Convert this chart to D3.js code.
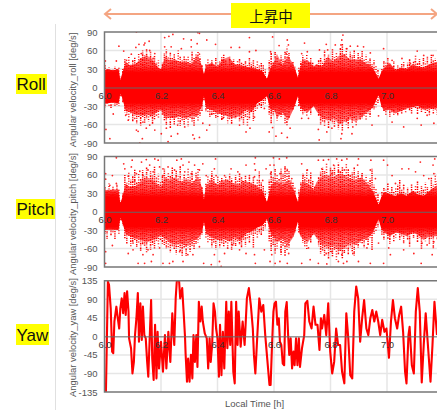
<!DOCTYPE html>
<html>
<head>
<meta charset="utf-8">
<script src="https://cdn.jsdelivr.net/npm/d3@7"></script>
<style>
  html, body { margin: 0; padding: 0; background: #fff; overflow: hidden; }
  text { font-family: "Liberation Sans", Arial, sans-serif; }
</style>
</head>
<body>
<script>
const timeTicks = [6.0, 6.2, 6.4, 6.6, 6.8, 7.0];
const rollTicks = [-90, -60, -30, 0, 30, 60, 90];
const pitchTicks = [-90, -60, -30, 0, 30, 60, 90];
const yawTicks = [-135, -90, -45, 0, 45, 90, 135];

const bandTime = [
  6.0, 6.01, 6.03, 6.05, 6.056, 6.062, 6.075, 6.09, 6.11, 6.13, 6.15, 6.17, 6.19, 6.2, 6.215,
  6.23, 6.25, 6.27, 6.29, 6.31, 6.33, 6.345, 6.352, 6.36, 6.38, 6.4, 6.42, 6.44, 6.46, 6.48,
  6.5, 6.52, 6.54, 6.56, 6.575, 6.59, 6.6, 6.61, 6.63, 6.65, 6.67, 6.685, 6.69, 6.7, 6.72,
  6.74, 6.75, 6.77, 6.79, 6.81, 6.83, 6.85, 6.87, 6.89, 6.91, 6.93, 6.95, 6.97, 6.98, 6.99,
  7.01, 7.03, 7.05, 7.07, 7.09, 7.11, 7.13, 7.15, 7.18,
];
const rollUpper = [
  28, 30, 28, 30, 12, 22, 42, 36, 38, 48, 52, 46, 32, 30, 50, 44, 46, 40, 42, 38, 54, 35, 22, 36, 40,
  34, 46, 50, 38, 36, 34, 32, 30, 26, 14, 35, 40, 55, 36, 52, 36, 16, 28, 44, 44, 34, 38, 34, 50, 42,
  52, 54, 45, 46, 44, 38, 32, 14, 25, 32, 40, 28, 32, 30, 38, 34, 32, 38, 42,
];
const rollLower = [
  -26, -26, -24, -26, -10, -16, -38, -40, -44, -46, -44, -46, -38, -36, -50, -48, -50, -46, -50, -46,
  -46, -30, -14, -34, -36, -42, -44, -48, -50, -46, -36, -40, -26, -20, -14, -40, -34, -50, -40, -54,
  -34, -14, -28, -36, -40, -30, -38, -50, -54, -50, -60, -56, -52, -56, -48, -40, -32, -12, -30, -38,
  -36, -42, -38, -34, -32, -30, -36, -34, -34,
];
const pitchUpper = [
  34, 36, 34, 36, 14, 22, 46, 40, 42, 50, 56, 52, 44, 40, 56, 52, 56, 48, 52, 46, 58, 40, 20, 44, 50,
  44, 52, 50, 46, 44, 50, 46, 42, 34, 16, 44, 48, 50, 44, 52, 36, 16, 30, 50, 46, 36, 48, 58, 60, 56,
  62, 60, 54, 52, 56, 46, 34, 12, 24, 32, 28, 26, 30, 26, 34, 28, 26, 34, 44,
];
const pitchLower = [
  -30, -28, -28, -30, -10, -16, -36, -40, -44, -46, -50, -46, -42, -38, -44, -50, -54, -52, -56, -48,
  -44, -34, -16, -36, -42, -46, -44, -48, -42, -48, -36, -32, -26, -22, -12, -38, -42, -50, -44, -54,
  -40, -16, -36, -44, -50, -36, -42, -54, -58, -56, -64, -60, -50, -54, -46, -44, -34, -12, -28, -34,
  -40, -34, -36, -40, -34, -38, -46, -40, -40,
];

// vertical streaks of dots, highest and lowest value at each time
const streakTime = [
  6.002, 6.009, 6.016, 6.023, 6.03, 6.037, 6.044, 6.051, 6.058, 6.065,
  6.072, 6.079, 6.086, 6.093, 6.1, 6.107, 6.114, 6.121, 6.128, 6.135,
  6.142, 6.149, 6.156, 6.163, 6.17, 6.177, 6.184, 6.191, 6.198, 6.205,
  6.212, 6.219, 6.226, 6.233, 6.24, 6.247, 6.254, 6.261, 6.268, 6.275,
  6.282, 6.289, 6.296, 6.303, 6.31, 6.317, 6.324, 6.331, 6.338, 6.345,
  6.352, 6.359, 6.366, 6.373, 6.38, 6.387, 6.394, 6.401, 6.408, 6.415,
  6.422, 6.429, 6.436, 6.443, 6.45, 6.457, 6.464, 6.471, 6.478, 6.485,
  6.492, 6.499, 6.506, 6.513, 6.52, 6.527, 6.534, 6.541, 6.548, 6.555,
  6.562, 6.569, 6.576, 6.583, 6.59, 6.597, 6.604, 6.611, 6.618, 6.625,
  6.632, 6.639, 6.646, 6.653, 6.66, 6.667, 6.674, 6.681, 6.688, 6.695,
  6.702, 6.709, 6.716, 6.723, 6.73, 6.737, 6.744, 6.751, 6.758, 6.765,
  6.772, 6.779, 6.786, 6.793, 6.8, 6.807, 6.814, 6.821, 6.828, 6.835,
  6.842, 6.849, 6.856, 6.863, 6.87, 6.877, 6.884, 6.891, 6.898, 6.905,
  6.912, 6.919, 6.926, 6.933, 6.94, 6.947, 6.954, 6.961, 6.968, 6.975,
  6.982, 6.989, 6.996, 7.003, 7.01, 7.017, 7.024, 7.031, 7.038, 7.045,
  7.052, 7.059, 7.066, 7.073, 7.08, 7.087, 7.094, 7.101, 7.108, 7.115,
  7.122, 7.129, 7.136, 7.143, 7.15, 7.157, 7.164, 7.171, 7.178,
];
const rollHigh = [
  36, 30, 33, 28, 31, 34, 30, 32, 18, 30,
  46, 40, 52, 38, 44, 50, 42, 55, 48, 60,
  52, 62, 48, 58, 44, 52, 40, 44, 30, 40,
  56, 62, 50, 58, 48, 54, 44, 60, 50, 46,
  52, 46, 50, 42, 58, 48, 54, 60, 50, 36,
  24, 40, 46, 38, 44, 36, 48, 40, 42, 50,
  54, 44, 38, 50, 42, 46, 36, 44, 48, 40,
  38, 44, 36, 48, 40, 46, 34, 42, 36, 40,
  36, 30, 18, 44, 56, 42, 60, 48, 40, 52,
  46, 58, 66, 56, 40, 42, 34, 18, 32, 42,
  52, 46, 54, 42, 48, 40, 34, 36, 44, 50,
  42, 60, 48, 54, 40, 62, 50, 58, 46, 64,
  72, 56, 64, 48, 58, 52, 60, 44, 56, 50,
  60, 46, 54, 42, 48, 38, 44, 36, 30, 14,
  30, 44, 40, 48, 38, 34, 42, 30, 36, 32,
  38, 42, 34, 40, 46, 36, 44, 52, 40, 46,
  36, 48, 42, 50, 38, 54, 44, 48, 40,
];
const rollLow = [
  -32, -28, -30, -34, -27, -30, -28, -30, -14, -24,
  -40, -44, -52, -42, -55, -46, -60, -50, -62, -48,
  -58, -50, -56, -48, -60, -52, -46, -50, -38, -44,
  -54, -62, -50, -66, -52, -60, -50, -58, -62, -54,
  -60, -52, -64, -50, -56, -62, -50, -54, -46, -38,
  -22, -40, -42, -50, -46, -44, -52, -48, -44, -54,
  -50, -46, -58, -48, -60, -44, -50, -42, -56, -52,
  -60, -48, -64, -52, -40, -54, -38, -34, -30, -34,
  -28, -26, -16, -44, -58, -46, -40, -54, -44, -48,
  -44, -58, -62, -50, -36, -36, -30, -14, -30, -38,
  -44, -40, -48, -36, -44, -32, -30, -34, -46, -60,
  -56, -62, -50, -66, -54, -58, -64, -52, -68, -60,
  -70, -54, -60, -66, -48, -58, -50, -62, -46, -52,
  -50, -46, -52, -42, -48, -34, -36, -32, -26, -12,
  -32, -38, -44, -36, -48, -40, -44, -36, -46, -38,
  -42, -36, -40, -34, -38, -42, -32, -36, -44, -34,
  -40, -34, -44, -38, -46, -36, -42, -38, -44,
];
const pitchHigh = [
  40, 34, 46, 36, 42, 38, 44, 36, 18, 30,
  60, 48, 66, 52, 58, 70, 50, 62, 54, 68,
  58, 72, 54, 66, 60, 74, 56, 62, 48, 60,
  70, 56, 64, 60, 72, 54, 68, 58, 74, 52,
  62, 54, 70, 58, 66, 50, 64, 72, 56, 40,
  30, 48, 58, 52, 66, 56, 46, 60, 50, 56,
  48, 58, 50, 62, 54, 46, 60, 52, 64, 56,
  50, 60, 46, 56, 48, 58, 44, 52, 66, 48,
  42, 34, 20, 52, 66, 58, 72, 60, 54, 70,
  62, 74, 70, 66, 52, 48, 40, 20, 36, 48,
  62, 56, 70, 54, 64, 50, 42, 44, 56, 66,
  72, 66, 78, 60, 72, 68, 76, 62, 80, 66,
  74, 62, 78, 70, 58, 64, 72, 60, 66, 56,
  64, 52, 60, 48, 54, 70, 44, 38, 30, 14,
  32, 40, 36, 46, 34, 42, 32, 38, 44, 52,
  36, 44, 32, 40, 30, 46, 36, 42, 50, 34,
  42, 36, 48, 40, 34, 56, 44, 62, 50,
];
const pitchLow = [
  -36, -44, -32, -40, -34, -46, -30, -36, -14, -22,
  -44, -52, -40, -56, -50, -46, -60, -52, -64, -54,
  -56, -66, -50, -62, -54, -60, -48, -56, -46, -52,
  -54, -60, -58, -66, -56, -62, -70, -58, -64, -72,
  -60, -74, -58, -66, -56, -62, -54, -50, -44, -38,
  -24, -42, -52, -46, -58, -50, -62, -48, -58, -52,
  -56, -50, -60, -48, -62, -52, -58, -48, -54, -60,
  -46, -56, -44, -50, -38, -60, -36, -44, -36, -38,
  -32, -28, -18, -48, -64, -54, -68, -60, -48, -70,
  -56, -72, -64, -60, -44, -40, -34, -18, -34, -40,
  -50, -56, -62, -44, -50, -38, -34, -44, -56, -68,
  -64, -72, -60, -76, -66, -74, -62, -78, -70, -64,
  -76, -68, -60, -70, -58, -66, -72, -54, -60, -50,
  -52, -58, -46, -54, -42, -64, -36, -32, -26, -12,
  -38, -46, -34, -44, -52, -36, -48, -42, -34, -46,
  -40, -52, -36, -46, -58, -38, -44, -34, -50, -42,
  -62, -40, -48, -36, -52, -44, -60, -38, -46,
];

// single dots outside the dense part [time, deg/s]
const rollDots = [
  [6.051, 67], [6.068, 59], [6.111, 65], [6.122, 70], [6.14, 69], [6.158, 75], [6.143, 72], [6.16, 60],
  [6.178, 55], [6.172, 47], [6.13, 55], [6.095, 54], [6.078, 44], [6.042, 43], [6.003, 43], [6.113, 90],
  [6.213, 81], [6.228, 83], [6.242, 86], [6.28, 79], [6.307, 77], [6.33, 89], [6.336, 88], [6.328, 71],
  [6.362, 77], [6.393, 70], [6.448, 65], [6.478, 65], [6.513, 81], [6.513, 58], [6.536, 60], [6.419, 44],
  [6.336, 54], [6.272, 63], [6.236, 66], [6.307, 66], [6.213, 66], [6.019, -83], [6.005, -68], [6.031, -43],
  [6.075, -45], [6.084, -53], [6.113, -69], [6.119, -71], [6.148, -66], [6.16, -61], [6.125, -90], [6.134, -83],
  [6.178, -69], [6.201, -75], [6.225, -88], [6.219, -66], [6.236, -79], [6.259, -75], [6.313, -77], [6.318, -83],
  [6.336, -81], [6.362, -69], [6.372, -61], [6.284, -64], [6.348, -58], [6.419, -50], [6.442, -50], [6.478, -61],
  [6.501, -72], [6.515, -66], [6.531, -48], [6.566, -34], [6.259, -61], [6.136, -56], [6.107, -50],
  [6.588, 58], [6.595, 82], [6.618, 68], [6.647, 77], [6.651, 69], [6.643, 55], [6.708, 72], [6.698, 55],
  [6.718, 58], [6.761, 61], [6.785, 70], [6.79, 61], [6.817, 69], [6.837, 69], [6.844, 85], [6.84, 77],
  [6.858, 63], [6.87, 67], [6.896, 67], [6.917, 66], [6.941, 56], [6.988, 63], [7.018, 44], [7.053, 47],
  [7.107, 59], [7.13, 52], [7.163, 52], [7.083, 39], [7.1, 42], [6.583, -72], [6.607, -79], [6.627, -74],
  [6.647, -81], [6.595, -65], [6.657, -66], [6.645, -56], [6.698, -50], [6.722, -50], [6.76, -85], [6.757, -68],
  [6.787, -72], [6.805, -66], [6.837, -83], [6.84, -75], [6.876, -75], [6.879, -64], [6.858, -53], [6.947, -61],
  [6.97, -46], [7.018, -56], [7.059, -64], [7.107, -50], [7.121, -61], [7.166, -58], [7.142, -45],
];
const pitchDots = [
  [6.004, 53], [6.004, 62], [6.028, 59], [6.042, 88], [6.019, 43], [6.042, 46], [6.068, 78], [6.072, 70],
  [6.098, 84], [6.095, 73], [6.125, 66], [6.131, 81], [6.148, 85], [6.16, 76], [6.178, 86], [6.19, 84],
  [6.172, 65], [6.136, 59], [6.113, 62], [6.084, 58], [6.154, 68], [6.207, 70], [6.207, 59], [6.225, 73],
  [6.256, 84], [6.272, 86], [6.278, 76], [6.299, 81], [6.284, 65], [6.254, 59], [6.319, 76], [6.336, 68],
  [6.348, 78], [6.36, 59], [6.393, 86], [6.389, 70], [6.395, 59], [6.425, 59], [6.448, 70], [6.472, 65],
  [6.501, 76], [6.534, 88], [6.531, 78], [6.534, 68], [6.531, 57], [6.572, 70], [6.56, 51], [6.513, 59],
  [6.489, 49], [6.436, 51], [6.107, 51], [6.248, 68], [6.195, 73], [6.307, 62], [6.378, 54],
  [6.004, -84], [6.004, -65], [6.028, -55], [6.084, -68], [6.101, -62], [6.119, -84], [6.142, -84], [6.166, -81],
  [6.136, -70], [6.172, -70], [6.154, -62], [6.207, -84], [6.242, -81], [6.23, -84], [6.278, -81], [6.295, -70],
  [6.313, -70], [6.351, -84], [6.378, -86], [6.407, -81], [6.389, -70], [6.425, -68], [6.436, -59], [6.478, -62],
  [6.501, -68], [6.534, -84], [6.531, -70], [6.566, -62], [6.454, -54], [6.101, -51], [6.266, -65], [6.195, -59],
  [6.336, -57], [6.413, -89],
  [6.6, 76], [6.586, 76], [6.598, 88], [6.619, 86], [6.645, 88], [6.639, 70], [6.647, 68], [6.621, 62],
  [6.588, 62], [6.663, 54], [6.698, 78], [6.718, 68], [6.704, 59], [6.757, 84], [6.775, 84], [6.793, 85],
  [6.769, 70], [6.811, 76], [6.822, 86], [6.84, 84], [6.858, 86], [6.828, 65], [6.805, 62], [6.849, 68],
  [6.87, 59], [6.899, 86], [6.896, 76], [6.911, 59], [6.943, 84], [6.941, 68], [6.959, 54], [6.988, 84],
  [7.002, 76], [7.018, 59], [7.053, 70], [7.077, 70], [7.101, 65], [7.118, 81], [7.13, 59], [7.148, 54],
  [7.163, 76], [7.169, 86], [7.166, 62], [7.059, 43], [7.03, 46],
  [6.586, -81], [6.604, -84], [6.621, -81], [6.592, -70], [6.624, -62], [6.647, -84], [6.652, -68], [6.645, -54],
  [6.698, -84], [6.728, -78], [6.722, -59], [6.757, -84], [6.787, -85], [6.785, -68], [6.805, -65], [6.828, -81],
  [6.846, -84], [6.858, -81], [6.84, -70], [6.879, -68], [6.899, -81], [6.941, -84], [6.929, -59], [6.97, -51],
  [6.988, -84], [7.012, -70], [7.006, -59], [7.059, -62], [7.095, -68], [7.121, -84], [7.124, -51], [7.16, -70],
  [7.166, -49], [7.142, -54],
];

const yawSeries = [
  [6.005, -135], [6.007, -62], [6.012, 133], [6.016, 125], [6.022, 68], [6.027, -37], [6.031, -41], [6.035, 36],
  [6.042, 72], [6.047, 44], [6.052, 19], [6.056, 68], [6.061, 92], [6.066, 56], [6.071, 105], [6.075, 52],
  [6.08, 109], [6.085, 60], [6.087, -5], [6.094, -29], [6.099, -90], [6.104, -62], [6.108, 3], [6.113, 44],
  [6.118, 105], [6.122, -13], [6.127, 80], [6.132, -9], [6.136, 72], [6.141, 3], [6.146, -5], [6.151, -62],
  [6.155, -98], [6.16, -5], [6.165, 88], [6.169, -54], [6.174, -106], [6.179, 28], [6.184, -102], [6.188, 11],
  [6.193, -78], [6.2, -13], [6.207, -86], [6.214, 3], [6.219, -78], [6.226, 11], [6.233, -62], [6.24, 56],
  [6.247, -21], [6.252, 92], [6.256, 135], [6.264, 135], [6.268, 92], [6.275, 117], [6.28, 60], [6.285, -1],
  [6.287, -41], [6.292, -110], [6.296, -54], [6.301, -110], [6.306, -45], [6.311, -102], [6.315, 3], [6.32, -62],
  [6.325, 3], [6.329, -74], [6.334, 84], [6.339, 36], [6.344, 72], [6.348, 36], [6.355, 7], [6.362, -5],
  [6.367, -78], [6.372, -5], [6.376, -62], [6.381, -21], [6.386, 80], [6.391, 60], [6.395, 19], [6.4, -5],
  [6.405, -98], [6.409, 28], [6.414, -94], [6.419, 11], [6.424, -78], [6.431, 84], [6.435, -29], [6.44, 60],
  [6.445, -21], [6.449, 84], [6.456, -86], [6.461, -114], [6.466, 84], [6.471, -21], [6.475, 60], [6.482, -25],
  [6.489, 36], [6.496, -21], [6.504, 92], [6.511, 117], [6.518, 76], [6.525, 19], [6.529, -45], [6.534, -90],
  [6.541, 3], [6.548, 92], [6.555, 60], [6.562, 76], [6.569, 3], [6.576, -54], [6.584, -118], [6.588, -118],
  [6.593, -21], [6.598, 60], [6.602, 80], [6.607, 84], [6.612, 28], [6.617, 44], [6.621, -13], [6.626, -21],
  [6.631, -66], [6.636, -70], [6.64, 60], [6.645, 83], [6.65, 3], [6.654, -45], [6.659, -5], [6.664, -78],
  [6.669, -37], [6.673, -70], [6.678, -5], [6.683, -70], [6.688, -5], [6.692, -74], [6.699, -29], [6.707, 3],
  [6.711, 80], [6.718, 86], [6.725, 36], [6.733, 19], [6.74, 72], [6.747, 28], [6.754, 28], [6.761, -33],
  [6.766, 44], [6.77, 19], [6.778, 52], [6.785, 3], [6.792, 80], [6.799, -37], [6.806, -90], [6.813, -62],
  [6.82, 19], [6.827, -21], [6.834, -21], [6.841, -86], [6.849, -114], [6.856, 56], [6.863, -5], [6.87, -94],
  [6.877, -102], [6.884, 60], [6.891, 121], [6.898, 92], [6.905, -13], [6.912, 44], [6.919, 88], [6.927, 19],
  [6.934, 3], [6.941, 44], [6.948, 64], [6.955, 36], [6.962, 60], [6.969, 36], [6.976, 3], [6.983, 40],
  [6.991, 11], [6.998, 19], [7.007, -52], [7.014, 36], [7.021, 88], [7.028, 44], [7.036, 19], [7.043, 52],
  [7.05, 72], [7.057, 11], [7.064, -86], [7.069, -114], [7.076, 3], [7.08, 23], [7.088, -70], [7.095, -90],
  [7.102, 60], [7.109, 117], [7.116, 60], [7.123, -112], [7.13, -21], [7.137, 56], [7.144, -13], [7.154, -110],
  [7.161, -21], [7.168, 84], [7.177, 3],
];

const w = 437;
const h = 410;
const left = 104.5;
const red = "#ff0000";

const xScale = d3.scaleLinear().domain([6.0, 7.177]).range([left, w]);

const svg = d3.select("body").append("svg").attr("width", w).attr("height", h).style("display", "block");

// page furniture
svg.append("line").attr("x1", 55.5).attr("x2", 55.5).attr("y1", 24).attr("y2", h)
  .attr("stroke", "#e0e0e0").attr("stroke-width", 1);

const arrowColor = "#f4a582";
svg.append("line").attr("x1", 106).attr("x2", 436).attr("y1", 14).attr("y2", 14)
  .attr("stroke", arrowColor).attr("stroke-width", 2);
svg.append("path").attr("d", "M111,9L105,14L111,19").attr("fill", "none")
  .attr("stroke", arrowColor).attr("stroke-width", 2);
svg.append("path").attr("d", "M431,9L437,14L431,19").attr("fill", "none")
  .attr("stroke", arrowColor).attr("stroke-width", 2);
svg.append("rect").attr("x", 231).attr("y", 3).attr("width", 79).attr("height", 25).attr("fill", "#ffff00");
svg.append("text").attr("x", 271).attr("y", 21.5).attr("text-anchor", "middle")
  .style("font-family", '"Noto Sans CJK JP"').style("font-size", "14.5px").attr("fill", "#111")
  .text("上昇中");

function sideLabel(name, x, y, width, height) {
  svg.append("rect").attr("x", x).attr("y", y).attr("width", width).attr("height", height).attr("fill", "#ffff00");
  svg.append("text").attr("x", x + 0.5).attr("y", y + height - 4.5)
    .style("font-size", "17px").attr("fill", "#111").text(name);
}
sideLabel("Roll", 16, 74, 31, 20);
sideLabel("Pitch", 16, 199, 39, 20);
sideLabel("Yaw", 16, 324, 33, 21);

function drawPanel(id, top, bottom, maxValue, ticks, title, titleY) {
  const yScale = d3.scaleLinear().domain([-maxValue, maxValue]).range([bottom, top]);
  const g = svg.append("g");

  g.append("defs").append("clipPath").attr("id", id)
    .append("rect").attr("x", left).attr("y", top).attr("width", w - left).attr("height", bottom - top);

  g.append("g").selectAll("line").data(ticks.filter((d) => Math.abs(d) < maxValue && d !== 0)).enter().append("line")
    .attr("x1", left).attr("x2", w)
    .attr("y1", (d) => yScale(d)).attr("y2", (d) => yScale(d))
    .attr("stroke", "#e6e6e6").attr("stroke-width", 1.5);
  g.append("g").selectAll("line").data(timeTicks.slice(1)).enter().append("line")
    .attr("x1", (d) => xScale(d)).attr("x2", (d) => xScale(d))
    .attr("y1", top).attr("y2", bottom)
    .attr("stroke", "#e6e6e6").attr("stroke-width", 1.5);

  const marks = g.append("g").attr("clip-path", `url(#${id})`);

  const yAxis = d3.axisLeft(yScale).tickValues(ticks).tickSize(0).tickPadding(7).tickFormat((d) => String(d));
  const axisY = g.append("g").attr("transform", `translate(${left},0)`).call(yAxis);
  axisY.select(".domain").remove();
  axisY.selectAll("text").style("font-size", "9.5px").attr("fill", "#555");

  g.append("text")
    .attr("transform", `translate(75.5,${titleY}) rotate(-90)`)
    .attr("text-anchor", "middle")
    .style("font-size", "9.4px").attr("fill", "#555").text(title);

  return { id, yScale, g, marks };
}

function finishPanel(panel, top, bottom) {
  const { yScale, g } = panel;
  // zero line with the time labels hanging under it
  const xAxis = d3.axisBottom(xScale).tickValues(timeTicks).tickSize(0).tickPadding(5).tickFormat(d3.format(".1f"));
  const axisX = g.append("g").attr("transform", `translate(0,${yScale(0)})`).call(xAxis);
  axisX.select(".domain").attr("stroke", "#666").attr("stroke-width", 1);
  axisX.selectAll("text").style("font-size", "9.5px").attr("fill", "#333");

  g.append("path").attr("d", `M${w},${top}H${left}V${bottom}H${w}`)
    .attr("fill", "none").attr("stroke", "#777").attr("stroke-width", 1.5);
}

// uneven dash patterns so the streaks do not line up into a lattice
const streakDashes = ["1.3 1", "1 1.7", "2 1.1 1 0.8", "1.5 0.7 0.8 1.4", "0.9 1.3 1.8 0.9"];

function drawScatter(panel, upper, lower, high, low, dots) {
  const { id, yScale, marks, g } = panel;

  // solid around zero, thinning out towards the edge of the band
  const grad = g.append("defs").append("linearGradient").attr("id", `${id}-fade`)
    .attr("gradientUnits", "userSpaceOnUse")
    .attr("x1", 0).attr("x2", 0).attr("y1", yScale(60)).attr("y2", yScale(-60));
  [[0, 0.35], [0.2, 0.7], [0.3, 1], [0.7, 1], [0.8, 0.7], [1, 0.35]].forEach((s) => {
    grad.append("stop").attr("offset", s[0]).attr("stop-color", red).attr("stop-opacity", s[1]);
  });

  const area = d3.area()
    .x((d) => xScale(bandTime[d]))
    .y0((d) => yScale(lower[d]))
    .y1((d) => yScale(upper[d]));
  marks.append("path").datum(d3.range(bandTime.length)).attr("d", area).attr("fill", `url(#${id}-fade)`);

  marks.append("g").selectAll("line").data(streakTime).enter().append("line")
    .attr("x1", (d) => xScale(d)).attr("x2", (d) => xScale(d))
    .attr("y1", (d, i) => yScale(high[i]))
    .attr("y2", (d, i) => yScale(low[i]))
    .attr("stroke", red)
    .attr("stroke-width", 1.5)
    .attr("stroke-dasharray", (d, i) => streakDashes[(i * 3) % streakDashes.length])
    .attr("stroke-dashoffset", (d, i) => ((i * 13) % 7) * 0.6);

  marks.append("g").selectAll("circle").data(dots).enter().append("circle")
    .attr("cx", (d) => xScale(d[0]))
    .attr("cy", (d) => yScale(d[1]))
    .attr("r", 0.9)
    .attr("fill", red)
    .attr("opacity", 0.85);
}

const roll = drawPanel("clip-roll", 32, 143, 90, rollTicks, "Angular velocity_roll [deg/s]", 90);
drawScatter(roll, rollUpper, rollLower, rollHigh, rollLow, rollDots);
finishPanel(roll, 32, 143);

const pitch = drawPanel("clip-pitch", 156.5, 267, 90, pitchTicks, "Angular velocity_pitch [deg/s]", 214);
drawScatter(pitch, pitchUpper, pitchLower, pitchHigh, pitchLow, pitchDots);
finishPanel(pitch, 156.5, 267);

const yaw = drawPanel("clip-yaw", 280.7, 392, 135, yawTicks, "Angular velocity_yaw [deg/s]", 337.5);
const yawLine = d3.line().x((d) => xScale(d[0])).y((d) => yaw.yScale(d[1]));
yaw.marks.append("path").datum(yawSeries).attr("d", yawLine)
  .attr("fill", "none").attr("stroke", red).attr("stroke-width", 2.1).attr("stroke-linejoin", "round");
finishPanel(yaw, 280.7, 392);

svg.append("text").attr("x", 254.5).attr("y", 407).attr("text-anchor", "middle")
  .style("font-size", "9.5px").attr("fill", "#555").text("Local Time [h]");
</script>
</body>
</html>
